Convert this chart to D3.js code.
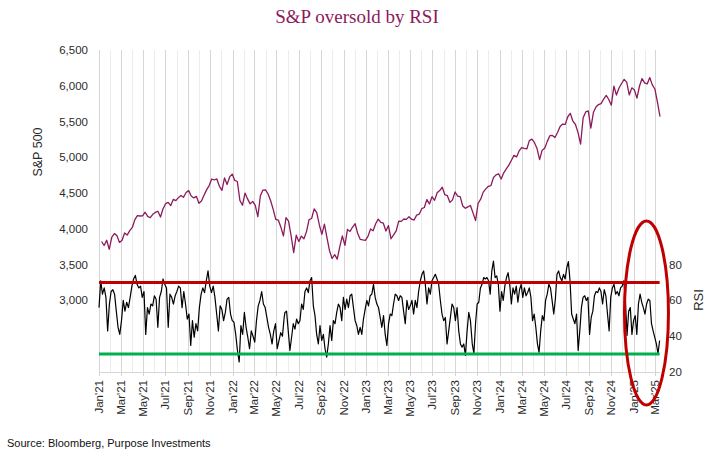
<!DOCTYPE html>
<html>
<head>
<meta charset="utf-8">
<script src="https://cdn.jsdelivr.net/npm/d3@7"></script>
<style>
  html, body { margin: 0; padding: 0; background: #fff; }
  svg { display: block; }
</style>
</head>
<body>
<svg id="chart" width="715" height="463"></svg>
<script>
// ---------------- DATA ----------------
const titleText = "S&P oversold by RSI";
const sourceText = "Source: Bloomberg, Purpose Investments";
const leftAxisLabel = "S&P 500";
const rightAxisLabel = "RSI";

// S&P 500 weekly closes (Fridays), first week ending 2021-01-08
const spStart = "2021-01-08";
const spValues = [
  // 2021
  3824, 3768, 3841, 3714, 3886, 3934, 3906, 3811, 3842, 3943, 3913, 3975, 4020,
  4129, 4185, 4180, 4181, 4233, 4174, 4156, 4204, 4230, 4247, 4166, 4281, 4352,
  4370, 4327, 4412, 4395, 4437, 4468, 4442, 4509, 4535, 4459, 4433, 4455, 4357,
  4391, 4471, 4545, 4605, 4697, 4683, 4698, 4595, 4538, 4712, 4621, 4726, 4766,
  // 2022
  4677, 4662, 4398, 4330, 4501, 4419, 4349, 4385, 4329, 4170, 4463, 4543, 4546,
  4488, 4393, 4272, 4132, 4123, 4024, 3901, 4158, 4109, 3901, 3667, 3912, 3825,
  3899, 3863, 3962, 4130, 4145, 4280, 4228, 4058, 3924, 4067, 3873, 3693, 3586,
  3640, 3577, 3752, 3901, 3771, 3993, 3965, 4026, 4072, 3934, 3852, 3845, 3840,
  // 2023
  3895, 3999, 3973, 4071, 4136, 4090, 4079, 3970, 4046, 3862, 3917, 3971, 4109,
  4105, 4138, 4133, 4169, 4136, 4124, 4192, 4205, 4282, 4299, 4410, 4348, 4450,
  4399, 4505, 4536, 4582, 4478, 4464, 4370, 4406, 4516, 4457, 4450, 4320, 4288,
  4308, 4327, 4224, 4117, 4358, 4415, 4514, 4559, 4595, 4604, 4719, 4755, 4770,
  // 2024
  4697, 4784, 4840, 4891, 4959, 5027, 5006, 5089, 5137, 5124, 5117, 5234, 5254,
  5204, 5123, 4967, 5100, 5128, 5223, 5303, 5305, 5278, 5347, 5431, 5465, 5460,
  5567, 5615, 5505, 5459, 5346, 5186, 5554, 5635, 5648, 5408, 5626, 5703, 5738,
  5751, 5815, 5865, 5808, 5729, 5996, 5871, 5969, 6032, 6090, 6051, 5872, 5971,
  // 2025
  5942, 5827, 5997, 6101, 6041, 6026, 6115, 6013, 5955, 5770, 5570
];

const rsiPart1Dates = ["2021-01-01", "2022-05-22"];
const rsiPart1 = [
  56, 71, 63.5, 67, 61.7, 43, 58, 65, 66, 63.5,
  54, 45, 41, 48.7, 60, 54, 59, 56, 61.7, 68,
  72, 74, 69, 67, 68, 61.7, 65, 41, 56, 52.4,
  58, 57, 62.6, 60.7, 45, 61.7, 65, 72, 69, 67,
  45, 63.5, 61.7, 58, 62.6, 65, 68, 67, 56, 65,
  58, 49.6, 52.4, 34.8, 48.7, 39.4, 47, 43, 56, 63.5,
  67, 64.4, 71, 76.5, 68, 64.4, 68, 61.7, 52.4, 43,
  57, 55, 48.7, 53.3, 60.7, 61.7, 52.4, 48.7, 47.8, 41,
  32, 25.6, 46, 41, 53.3, 45, 39.4, 33, 43, 40,
  36.7, 48.7, 57, 60, 65, 58, 56, 50.5, 45, 41,
  35.7, 43, 47, 33, 37.6, 42, 40, 50.5
];
const rsiPart2Dates = ["2022-05-24", "2023-10-13"];
const rsiPart2 = [
  53.3, 54, 43, 32, 39.4, 47, 44, 49.6, 47, 48.7,
  58, 55, 65, 67, 64.4, 71, 72.8, 57, 51.5, 41,
  35.7, 46, 37.6, 41, 33, 28.3, 35.7, 46, 37.6, 48.7,
  47, 53.3, 58, 56, 48.7, 61.7, 55, 60.7, 56, 62.6,
  63.5, 56, 48.7, 46, 41, 45, 41, 49.6, 55, 60,
  57, 62.6, 63.5, 69, 61.7, 58, 56, 50.5, 45, 51.5,
  41, 34.8, 47, 52.4, 51.5, 58, 63.5, 62.6, 60, 62.6,
  61.7, 54, 47, 60, 55, 57, 60, 52.4, 60, 56,
  65, 71, 74.6, 76.5, 69, 58, 67, 63.5, 71, 72.8,
  74.6, 72, 69, 60, 52.4, 48.7, 50.5, 35.7, 43, 50.5,
  58, 56, 48.7, 56, 43, 35.7, 33.9, 35.7, 29.3, 43,
  53.3, 48.7
];
const rsiPart3Dates = ["2023-10-18", "2025-03-13"];
const rsiPart3 = [
  35.7, 30.2, 47, 58, 59, 67, 69, 72.8, 72, 72.8,
  71, 63.5, 76.5, 82, 72.8, 73.7, 69, 54, 65, 60,
  68, 72.8, 75.5, 69, 58, 67, 63.5, 68, 59, 66,
  69, 61.7, 67, 62.6, 64.4, 67, 61.7, 48.7, 52.4, 45,
  35.7, 31, 43, 51.5, 48.7, 60, 63.5, 69, 67, 60,
  52.4, 60.7, 74.6, 76.5, 72.8, 71, 74.6, 72, 78.3, 81.7,
  71, 52.4, 49.6, 47, 52.4, 32, 43, 56, 61.7, 62.6,
  60, 61.7, 41, 50.5, 54, 62.6, 65, 64.4, 67, 65,
  58, 66, 62.6, 52.4, 43, 61.7, 67, 69, 63.5, 65,
  62.6, 67, 68, 71, 60, 40.4, 54, 56, 41, 48.7,
  51.5, 41, 58, 63.5, 59, 56, 52.4, 58, 60.7, 60,
  47, 43, 39.4, 35.7, 30.2, 37.6
];

const overbought = 70;
const oversold = 30;
const spTicks = [3000, 3500, 4000, 4500, 5000, 5500, 6000, 6500];
const rsiTicks = [20, 40, 60, 80];
const xDomain = ["2021-01-01", "2025-03-14"];
const highlightCenter = { date: "2025-02-05", rsi: 53 };

// ---------------- BUILD ----------------
const parse = d3.utcParse("%Y-%m-%d");
const DAY = 24 * 3600 * 1000;

const spData = spValues.map((v, i) => ({ date: new Date(parse(spStart).getTime() + i * 7 * DAY), value: v }));

function evenPart(values, range) {
  const a = parse(range[0]).getTime(), b = parse(range[1]).getTime();
  const n = values.length;
  return values.map((v, i) => ({ date: new Date(a + (b - a) * i / (n - 1)), value: v }));
}
const rsiData = [].concat(
  evenPart(rsiPart1, rsiPart1Dates),
  evenPart(rsiPart2, rsiPart2Dates),
  evenPart(rsiPart3, rsiPart3Dates)
);

const svg = d3.select("#chart");
const plotLeft = 99, plotRight = 660, plotTop = 50, plotBottom = 372;

const x = d3.scaleUtc().domain(xDomain.map(parse)).range([plotLeft, plotRight]);
const yL = d3.scaleLinear().domain([2000, 6500]).range([plotBottom, plotTop]);
const yR = d3.scaleLinear().domain([20, 200]).range([plotBottom, plotTop]);

const FONT = "'Liberation Sans', Arial, sans-serif";
const labelColor = "#2b2b2b";
const spColor = "#8c1a5c";

// Title
svg.append("text")
  .attr("x", 357).attr("y", 23)
  .attr("text-anchor", "middle")
  .attr("font-family", "'Liberation Serif', 'Times New Roman', serif")
  .attr("font-size", 19)
  .attr("fill", "#8c1a5c")
  .text(titleText);

// Month gridlines
const months = d3.utcMonth.range(parse(xDomain[0]), d3.utcDay.offset(parse(xDomain[1]), 1));
svg.append("g").selectAll("line").data(months).join("line")
  .attr("x1", d => Math.round(x(d)) + 0.5).attr("x2", d => Math.round(x(d)) + 0.5)
  .attr("y1", plotTop).attr("y2", plotBottom)
  .attr("stroke", d => d.getUTCMonth() % 2 === 0 ? "#d6d6d6" : "#ececec")
  .attr("stroke-width", 1);

// Bottom axis line and ticks
svg.append("line")
  .attr("x1", plotLeft).attr("x2", plotRight)
  .attr("y1", plotBottom + 0.5).attr("y2", plotBottom + 0.5)
  .attr("stroke", "#d6d6d6");
const labelMonths = months.filter(d => d.getUTCMonth() % 2 === 0);
svg.append("g").selectAll("line").data(labelMonths).join("line")
  .attr("x1", d => Math.round(x(d)) + 0.5).attr("x2", d => Math.round(x(d)) + 0.5)
  .attr("y1", plotBottom).attr("y2", plotBottom + 4)
  .attr("stroke", "#d6d6d6");

const fmtMonth = d3.utcFormat("%b");
const fmtYear = d3.utcFormat("%y");
svg.append("g").selectAll("text").data(labelMonths).join("text")
  .attr("transform", d => `translate(${x(d) + 4},380) rotate(-90)`)
  .attr("text-anchor", "end")
  .attr("font-family", FONT).attr("font-size", 11.5)
  .attr("fill", labelColor)
  .text(d => fmtMonth(d) + "'" + fmtYear(d));

// Left axis labels
const fmtComma = d3.format(",");
svg.append("g").selectAll("text").data(spTicks).join("text")
  .attr("x", 88).attr("y", d => yL(d)).attr("dy", "0.35em")
  .attr("text-anchor", "end")
  .attr("font-family", FONT).attr("font-size", 11.5)
  .attr("fill", labelColor)
  .text(d => fmtComma(d));

// Right axis labels
svg.append("g").selectAll("text").data(rsiTicks).join("text")
  .attr("x", 669).attr("y", d => yR(d)).attr("dy", "0.35em")
  .attr("text-anchor", "start")
  .attr("font-family", FONT).attr("font-size", 11.5)
  .attr("fill", labelColor)
  .text(d => d);

// Axis titles
svg.append("text")
  .attr("transform", `translate(42,152) rotate(-90)`)
  .attr("text-anchor", "middle")
  .attr("font-family", FONT).attr("font-size", 12.5)
  .attr("fill", labelColor)
  .text(leftAxisLabel);
svg.append("text")
  .attr("transform", `translate(703,300) rotate(-90)`)
  .attr("text-anchor", "middle")
  .attr("font-family", FONT).attr("font-size", 13)
  .attr("fill", labelColor)
  .text(rightAxisLabel);

// S&P line
svg.append("path").datum(spData)
  .attr("fill", "none").attr("stroke", spColor).attr("stroke-width", 1.3)
  .attr("stroke-linejoin", "round")
  .attr("d", d3.line().x(d => x(d.date)).y(d => yL(d.value)));

// RSI line
svg.append("path").datum(rsiData)
  .attr("fill", "none").attr("stroke", "#000").attr("stroke-width", 1.2)
  .attr("stroke-linejoin", "round")
  .attr("d", d3.line().x(d => x(d.date)).y(d => yR(d.value)));

// Threshold lines
const lineEnd = x(parse(rsiPart3Dates[1]));
svg.append("line")
  .attr("x1", plotLeft).attr("x2", lineEnd)
  .attr("y1", yR(overbought)).attr("y2", yR(overbought))
  .attr("stroke", "#c00000").attr("stroke-width", 3);
svg.append("line")
  .attr("x1", plotLeft).attr("x2", lineEnd)
  .attr("y1", yR(oversold)).attr("y2", yR(oversold))
  .attr("stroke", "#00b050").attr("stroke-width", 3);

// Highlight ellipse
svg.append("ellipse")
  .attr("cx", x(parse(highlightCenter.date)))
  .attr("cy", yR(highlightCenter.rsi))
  .attr("rx", 22).attr("ry", 92)
  .attr("fill", "none").attr("stroke", "#c00000").attr("stroke-width", 3);

// Source
svg.append("text")
  .attr("x", 7).attr("y", 447)
  .attr("font-family", FONT).attr("font-size", 11)
  .attr("fill", "#111")
  .text(sourceText);
</script>
</body>
</html>
